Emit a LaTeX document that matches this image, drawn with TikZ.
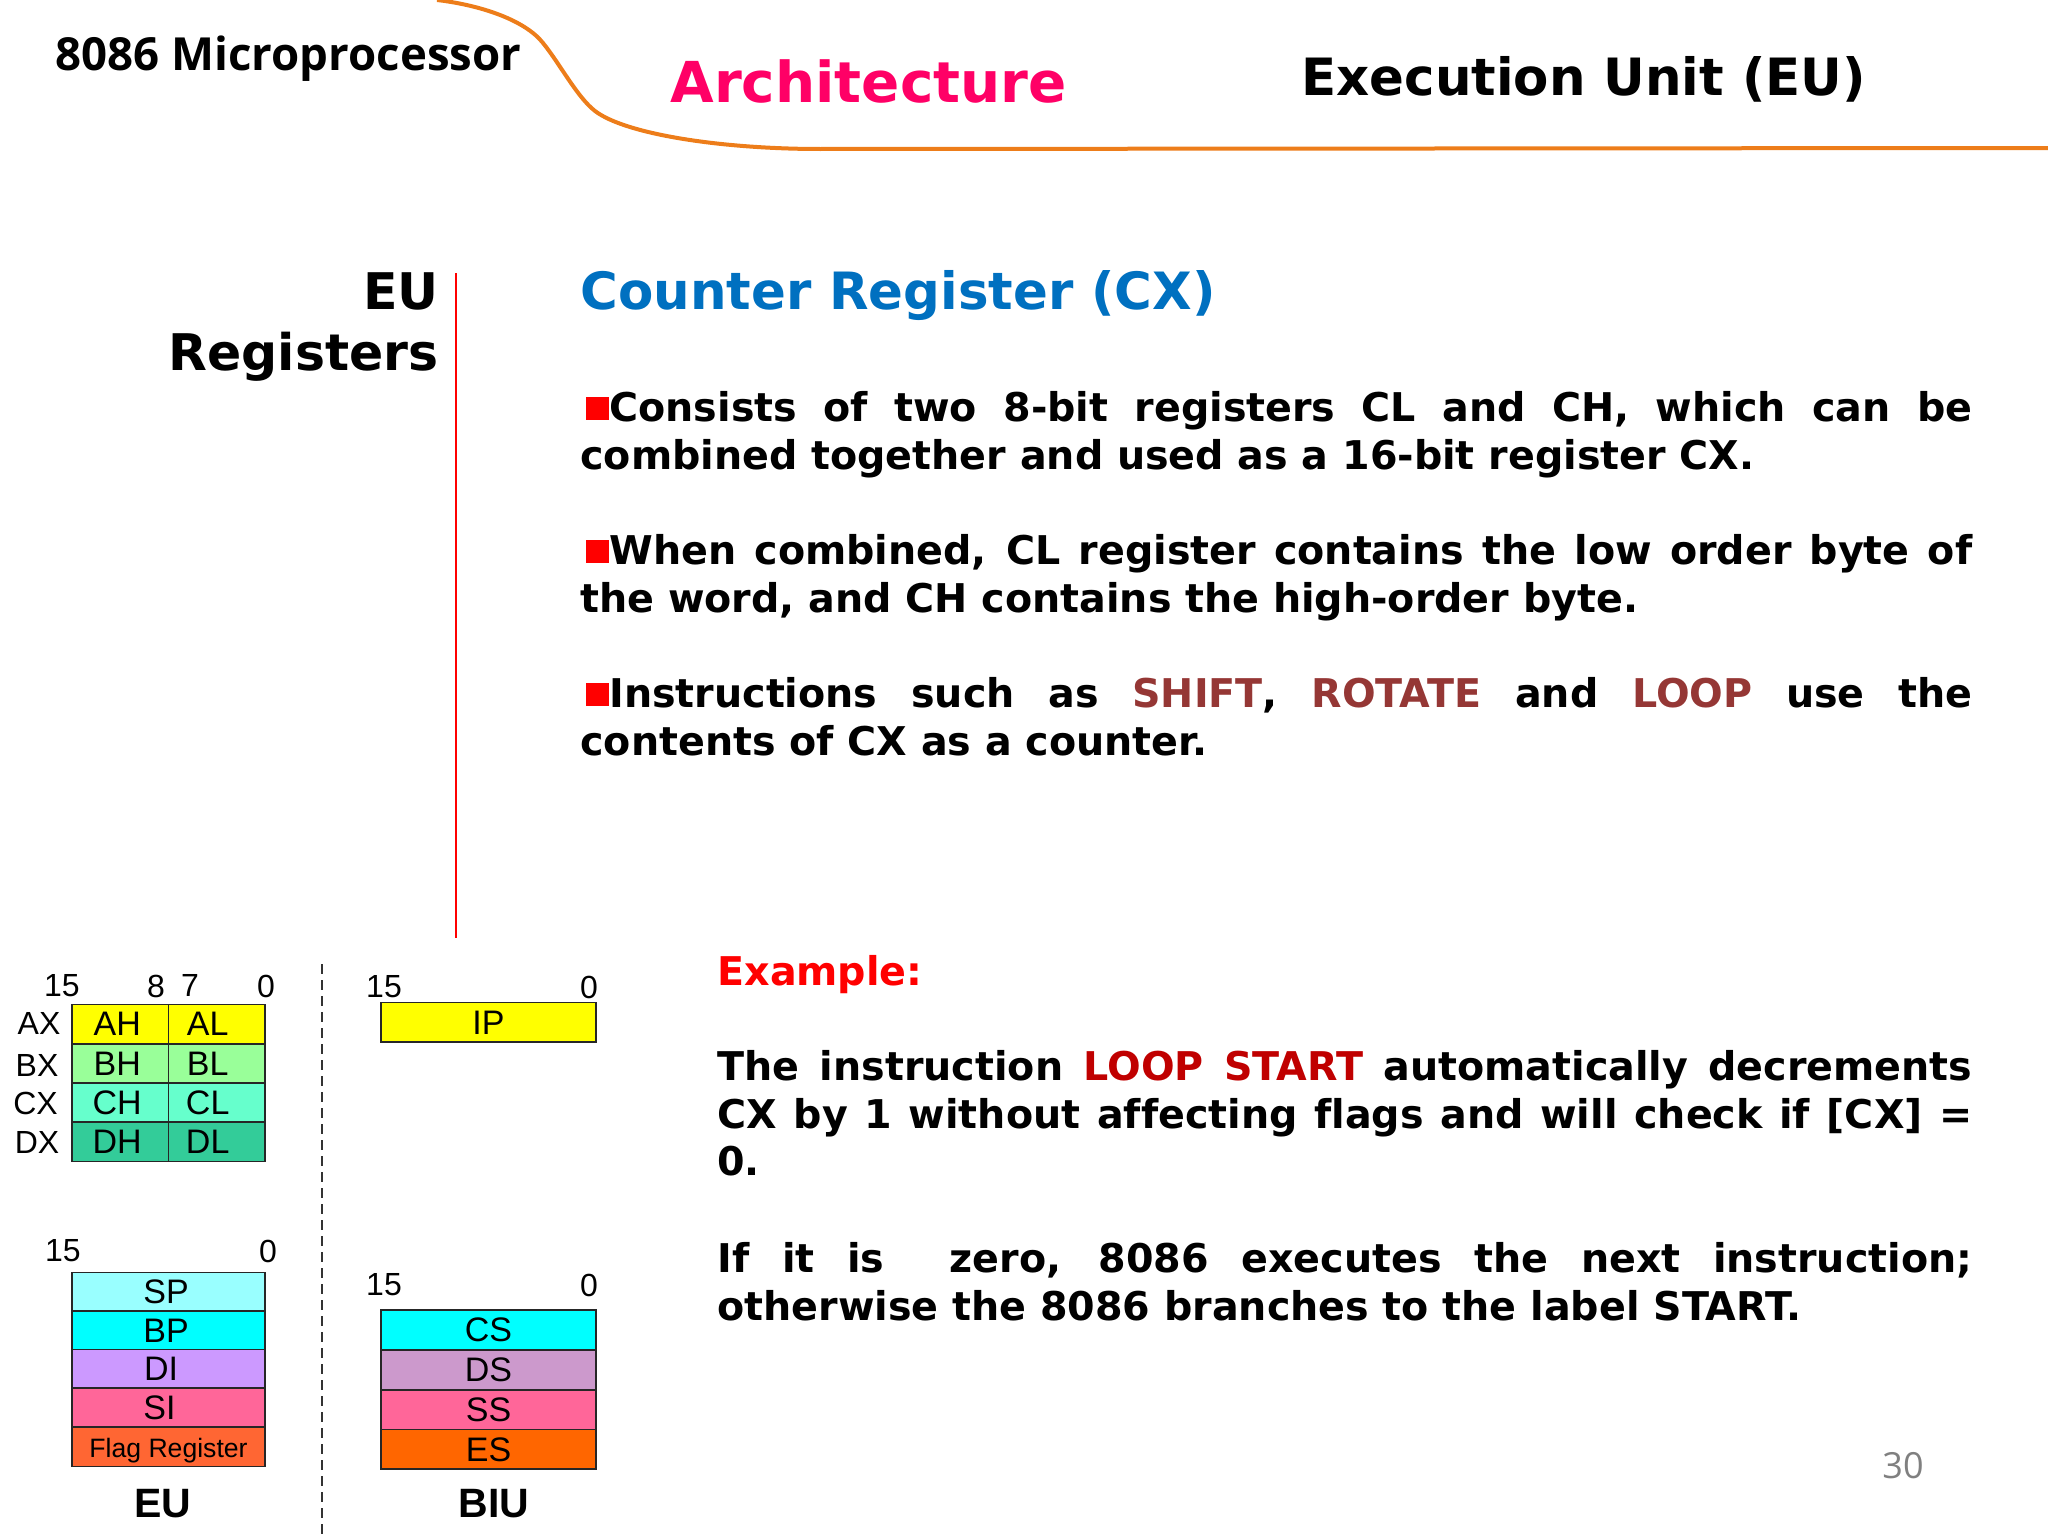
\documentclass[tikz,border=0pt]{standalone}
\usepackage{fontspec}
\setmainfont{DejaVu Sans}[Ligatures=NoCommon]
\newfontfamily\headfont{Open Sans}
\newfontfamily\regfont{Liberation Sans}
\hyphenpenalty=10000
\definecolor{archpink}{HTML}{FF0066}
\definecolor{curveorange}{HTML}{ED7D1A}
\definecolor{cxblue}{HTML}{0070C0}
\definecolor{insbrown}{HTML}{953735}
\definecolor{loopred}{HTML}{C00000}
\definecolor{ipfill}{HTML}{FFFF00}
\definecolor{bxfill}{HTML}{99FF99}
\definecolor{cxfill}{HTML}{66FFCC}
\definecolor{dxfill}{HTML}{33CC99}
\definecolor{spfill}{HTML}{99FFFF}
\definecolor{bpfill}{HTML}{00FFFF}
\definecolor{difill}{HTML}{CC99FF}
\definecolor{sifill}{HTML}{FF6699}
\definecolor{flagfill}{HTML}{FF6633}
\definecolor{dsfill}{HTML}{CC99CC}
\definecolor{esfill}{HTML}{FF6600}
\newcommand{\sq}{\kern3pt\textcolor{red}{\rule[1pt]{11.5pt}{11.5pt}}}
\tikzset{
  title/.style={anchor=base west, inner sep=0pt, font=\bfseries\fontsize{25.7}{30}\selectfont},
  bodytext/.style={anchor=north west, inner sep=0pt, text width=#1, align=justify, font=\bfseries\fontsize{19.8}{23.75}\selectfont},
  halfreg/.style={draw=black!85, line width=0.8pt, minimum width=48.25pt, minimum height=19.6pt, inner sep=0pt, font=\regfont\fontsize{17}{17}\selectfont},
  fullreg/.style={halfreg, minimum width=96.5pt},
  biureg/.style={halfreg, minimum width=107.5pt, minimum height=19.8pt},
  bitlabel/.style={inner sep=0pt, font=\regfont\fontsize{16}{16}\selectfont},
  unitlabel/.style={inner sep=0pt, font=\regfont\bfseries\fontsize{20.5}{22}\selectfont}
}
\begin{document}
\begin{tikzpicture}[x=0.5pt, y=-0.5pt]
\useasboundingbox (0,0) rectangle (2048,1536);
% header
\draw [curveorange, line width=2pt] (437,0) .. controls (480,5) and (525,20) .. (543,43) .. controls (560,64) and (577,97) .. (595,111) .. controls (625,134) and (720,149) .. (820,149) -- (2048,148);
\node [title, font=\headfont\bfseries\fontsize{22.8}{26}\selectfont] (head) at (55,71) {8086 Microprocessor};
\node [title, font=\bfseries\fontsize{28.2}{32}\selectfont, text=archpink] (arch) at (670,103) {Architecture};
\node [title] (unit) at (1301,96) {Execution Unit (EU)};
% side heading
\draw [red, line width=0.8pt] (456,273) -- (456,938);
\node [title, anchor=base east, font=\bfseries\fontsize{25.25}{30}\selectfont] (eu) at (439,309) {EU};
\node [title, anchor=base east, font=\bfseries\fontsize{25.25}{30}\selectfont] (regs) at (439,370) {Registers};
\node [title, text=cxblue] (cx) at (580,309) {Counter Register (CX)};
% text
\node [bodytext=696pt] (p1) at (580,391.5) {\sq Consists of two 8-bit registers CL and CH, which can be\linebreak combined together and used as a 16-bit register CX.};
\node [bodytext=696pt] (p2) at (580,534.5) {\sq When combined, CL register contains the low order byte of\linebreak the word, and CH contains the high-order byte.};
\node [bodytext=696pt] (p3) at (580,677.5) {\sq Instructions such as \textcolor{insbrown}{SHIFT}, \textcolor{insbrown}{ROTATE} and \textcolor{insbrown}{LOOP} use the\linebreak contents of CX as a counter.};
\node [bodytext=627.5pt, text=red] (ex) at (717,955) {Example:};
\node [bodytext=627.5pt] (p4) at (717,1050) {The instruction \textcolor{loopred}{LOOP START} automatically decrements\linebreak CX by 1 without affecting flags and will check if [CX] =\linebreak 0.};
\node [bodytext=627.5pt] (p5) at (717,1242) {If it is\ \ zero, 8086 executes the next instruction;\linebreak otherwise the 8086 branches to the label START.};
% general registers
\node [halfreg, fill=ipfill] (ah) at (120.2,1024.2) {AH\kern3pt};
\node [halfreg, fill=ipfill] (al) at (216.7,1024.2) {AL\kern9pt};
\node [halfreg, fill=bxfill] (bh) at (120.2,1063.4) {BH\kern3pt};
\node [halfreg, fill=bxfill] (bl) at (216.7,1063.4) {BL\kern9pt};
\node [halfreg, fill=cxfill] (ch) at (120.2,1102.6) {CH\kern3pt};
\node [halfreg, fill=cxfill] (cl) at (216.7,1102.6) {CL\kern9pt};
\node [halfreg, fill=dxfill] (dh) at (120.2,1141.8) {DH\kern3pt};
\node [halfreg, fill=dxfill] (dl) at (216.7,1141.8) {DL\kern9pt};
\node [bitlabel] (ax) at (39,1023) {AX};
\node [bitlabel] (bx) at (37,1065) {BX};
\node [bitlabel] (cxl) at (35.5,1103.5) {CX};
\node [bitlabel] (dx) at (37,1142) {DX};
\node [bitlabel] (a15) at (62,986) {15};
\node [bitlabel] (a8) at (156,986) {8};
\node [bitlabel] (a7) at (190,985) {7};
\node [bitlabel] (a0) at (266,986) {0};
% pointer and flag registers
\node [fullreg, fill=spfill] (sp) at (168.5,1292) {SP\kern2.5pt};
\node [fullreg, fill=bpfill] (bp) at (168.5,1330.6) {BP\kern2.5pt};
\node [fullreg, fill=difill] (di) at (168.5,1369) {DI\kern7.5pt};
\node [fullreg, fill=sifill] (si) at (168.5,1407.6) {SI\kern9pt};
\node [fullreg, fill=flagfill, font=\regfont\fontsize{13.3}{14}\selectfont] (flag) at (168.5,1447) {\raisebox{-5.3pt}[0pt][0pt]{Flag Register}};
\node [bitlabel] (s15) at (63,1251) {15};
\node [bitlabel] (s0) at (268,1251) {0};
\node [unitlabel] (eulabel) at (163,1504) {EU};
% divider
\draw [black!80, line width=0.8pt, dash pattern=on 5pt off 3pt] (322,964) -- (322,1536);
% biu registers
\node [biureg, fill=ipfill] (ip) at (488.5,1022.4) {IP};
\node [bitlabel] (i15) at (384,987) {15};
\node [bitlabel] (i0) at (589,987) {0};
\node [biureg, fill=bpfill] (cs) at (488.5,1330) {CS};
\node [biureg, fill=dsfill] (ds) at (488.5,1369.8) {DS};
\node [biureg, fill=sifill] (ss) at (488.5,1409.6) {SS};
\node [biureg, fill=esfill] (es) at (488.5,1449.4) {ES};
\node [bitlabel] (c15) at (384,1285) {15};
\node [bitlabel] (c0) at (589,1285) {0};
\node [unitlabel] (biulabel) at (494,1504) {BIU};
\node [anchor=base east, inner sep=0pt, text=black!50, font=\headfont\fontsize{18}{20}\selectfont] (page) at (1924,1478) {30};
\end{tikzpicture}
\end{document}
